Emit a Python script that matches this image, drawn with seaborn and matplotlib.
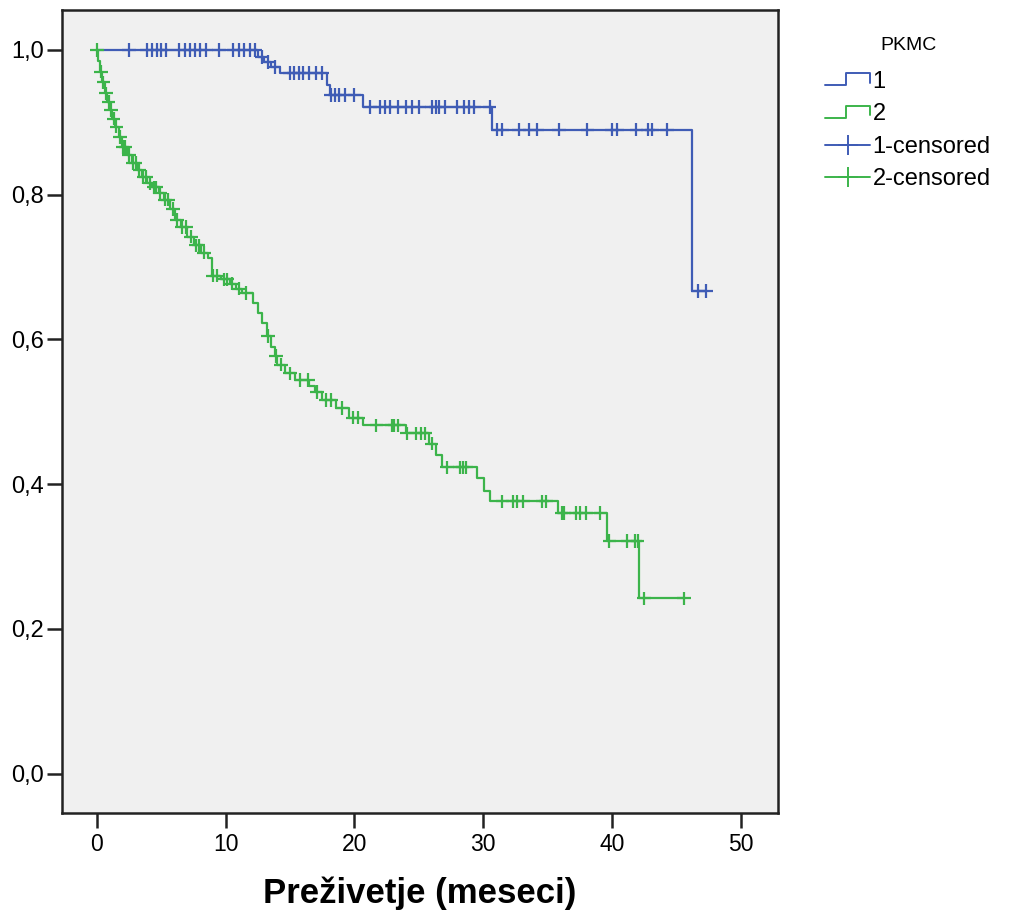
import numpy as np
import pandas as pd
import matplotlib
matplotlib.use("Agg")
import matplotlib.pyplot as plt
from matplotlib.lines import Line2D
from matplotlib.legend_handler import HandlerBase
import seaborn as sns

# ---------------- data ----------------
groups = ["1", "2"]
legend_labels = ["1", "2", "1-censored", "2-censored"]
legend_title = "PKMC"
x_label = "Preživetje (meseci)"
x_ticks = [0, 10, 20, 30, 40, 50]
y_ticks = [0.0, 0.2, 0.4, 0.6, 0.8, 1.0]

# step curve: time at which the survival level starts
blue_times = [0.0, 12.5, 13.0, 13.5, 14.2, 17.9, 18.1, 20.7, 30.7, 46.2]
blue_surv = [1.0, 0.990, 0.983, 0.976, 0.968, 0.952, 0.938, 0.921, 0.890, 0.667]
blue_end = 47.3
blue_censored = [2.5, 3.9, 4.3, 4.7, 5.0, 5.4, 6.4, 6.8, 7.2, 7.6, 8.0, 8.5, 9.5,
                 10.6, 11.0, 11.4, 11.9, 12.3, 12.8, 13.3, 13.8, 15.0, 15.3, 15.7,
                 16.0, 16.5, 17.0, 17.5, 18.2, 18.5, 18.8, 19.3, 20.0, 21.2, 22.0,
                 22.4, 22.8, 23.4, 24.0, 24.5, 25.0, 26.0, 26.3, 26.6, 27.0, 28.0,
                 28.5, 28.9, 29.3, 30.5, 31.1, 31.5, 32.8, 33.6, 34.2, 35.9, 38.1,
                 40.0, 40.4, 41.9, 42.8, 43.1, 44.3, 46.7, 47.3]

green_times = [0.0, 0.1, 0.25, 0.4, 0.6, 0.8, 1.0, 1.2, 1.4, 1.7, 1.95, 2.3, 2.7,
               3.1, 3.5, 3.9, 4.3, 4.8, 5.2, 5.7, 6.1, 6.5, 7.0, 7.5, 8.1, 8.6,
               8.9, 9.6, 10.3, 10.8, 11.3, 12.1, 12.5, 12.8, 13.2, 13.5, 13.8,
               14.0, 14.6, 15.4, 16.5, 16.9, 17.5, 18.6, 19.6, 20.7, 24.0, 25.8,
               26.3, 26.8, 29.5, 30.1, 30.5, 35.8, 39.6, 42.1]
green_surv = [1.0, 0.985, 0.970, 0.955, 0.940, 0.928, 0.917, 0.905, 0.894, 0.880,
              0.866, 0.855, 0.844, 0.834, 0.824, 0.816, 0.810, 0.802, 0.793, 0.780,
              0.765, 0.755, 0.742, 0.730, 0.720, 0.712, 0.688, 0.683, 0.677, 0.670,
              0.664, 0.650, 0.636, 0.622, 0.605, 0.590, 0.577, 0.565, 0.553, 0.544,
              0.535, 0.527, 0.516, 0.505, 0.492, 0.481, 0.470, 0.456, 0.440, 0.423,
              0.409, 0.391, 0.376, 0.360, 0.321, 0.242]
green_end = 45.7
green_censored = [0.0, 0.3, 0.5, 0.7, 0.9, 1.1, 1.3, 1.5, 1.8, 2.0, 2.2, 2.5, 2.8,
                  3.0, 3.3, 3.6, 3.8, 4.1, 4.4, 4.6, 4.9, 5.3, 5.5, 5.9, 6.2, 6.6,
                  6.9, 7.3, 7.7, 7.9, 8.3, 9.0, 9.3, 9.9, 10.1, 10.5, 11.0, 11.6,
                  13.3, 13.9, 14.3, 15.0, 15.8, 16.4, 17.1, 17.8, 18.2, 19.0, 19.9,
                  20.3, 21.7, 22.9, 23.1, 23.4, 24.1, 24.8, 25.2, 25.5, 26.0, 27.2,
                  28.2, 28.4, 28.7, 31.5, 32.3, 32.6, 33.1, 34.6, 34.9, 36.1, 36.3,
                  37.2, 37.5, 38.0, 39.1, 39.8, 41.2, 41.8, 42.0, 42.5, 45.6]

colors = {"1": "#3f5cb5", "2": "#3cb44b"}


def step_value(times, surv, t):
    idx = np.searchsorted(np.asarray(times), t, side="right") - 1
    return np.asarray(surv)[idx]


curve_rows = []
for g, ts, ss, end in [("1", blue_times, blue_surv, blue_end),
                       ("2", green_times, green_surv, green_end)]:
    for t, s in zip(ts, ss):
        curve_rows.append((g, t, s))
    curve_rows.append((g, end, ss[-1]))
curves = pd.DataFrame(curve_rows, columns=["group", "time", "surv"])

cens_rows = []
for g, ts, ss, cs in [("1", blue_times, blue_surv, blue_censored),
                      ("2", green_times, green_surv, green_censored)]:
    for c in cs:
        cens_rows.append((g, c, step_value(ts, ss, c)))
cens = pd.DataFrame(cens_rows, columns=["group", "time", "surv"])

# ---------------- plot ----------------
sns.set_style("white")
plt.rcParams["font.family"] = ["Liberation Sans", "DejaVu Sans"]
plt.rcParams["text.color"] = "black"
plt.rcParams["axes.labelcolor"] = "black"
plt.rcParams["xtick.color"] = "#222222"
plt.rcParams["ytick.color"] = "#222222"
plt.rcParams["xtick.labelcolor"] = "black"
plt.rcParams["ytick.labelcolor"] = "black"

fig = plt.figure(figsize=(10.09, 9.18), dpi=100)
ax = fig.add_axes([0.0614, 0.114, 0.7096, 0.875])
ax.set_facecolor("#f0f0f0")

sns.lineplot(data=curves, x="time", y="surv", hue="group", palette=colors,
             estimator=None, sort=True, drawstyle="steps-post", linewidth=1.6,
             legend=False, ax=ax)
sns.scatterplot(data=cens, x="time", y="surv", hue="group", palette=colors,
                marker="+", s=95, linewidth=1.6, legend=False, ax=ax, zorder=3)

ax.set_xlim(-2.72, 52.9)
ax.set_ylim(-0.055, 1.055)
ax.set_xticks(x_ticks)
ax.set_yticks(y_ticks)
ax.set_xticklabels([str(v) for v in x_ticks], fontsize=16.5)
ax.set_yticklabels([f"{v:.1f}".replace(".", ",") for v in y_ticks], fontsize=17)
ax.tick_params(direction="out", length=11, width=1.8, bottom=True, left=True,
               pad=2)
ax.tick_params(axis="x", pad=3)
for sp in ax.spines.values():
    sp.set_color("#222222")
    sp.set_linewidth(1.8)
ax.set_xlabel(x_label, fontsize=25, fontweight="bold", labelpad=15)
ax.set_ylabel("")


class StepHandler(HandlerBase):
    def create_artists(self, legend, orig_handle, xdescent, ydescent, width,
                       height, fontsize, trans):
        x0 = -xdescent
        y0 = -ydescent
        xs = [x0, x0 + width * 0.45, x0 + width * 0.45, x0 + width, x0 + width]
        ys = [y0 + height * 0.15, y0 + height * 0.15, y0 + height * 0.85,
              y0 + height * 0.85, y0 + height * 0.3]
        ln = Line2D(xs, ys, color=orig_handle.get_color(), linewidth=1.4,
                    transform=trans)
        return [ln]


h1 = Line2D([], [], color=colors["1"])
h2 = Line2D([], [], color=colors["2"])
h3 = Line2D([], [], color=colors["1"], marker="+", markersize=14, linewidth=1.4,
            markeredgewidth=1.4)
h4 = Line2D([], [], color=colors["2"], marker="+", markersize=14, linewidth=1.4,
            markeredgewidth=1.4)
leg = fig.legend([h1, h2, h3, h4], legend_labels, title=legend_title,
                 loc="upper left", bbox_to_anchor=(0.797, 0.983), frameon=False,
                 fontsize=17, title_fontsize=14, handlelength=1.9,
                 handletextpad=0.1, labelspacing=0.45,
                 handler_map={h1: StepHandler(), h2: StepHandler()})
leg._legend_box.sep = 12

fig.savefig("out.png", dpi=100, facecolor="white")
